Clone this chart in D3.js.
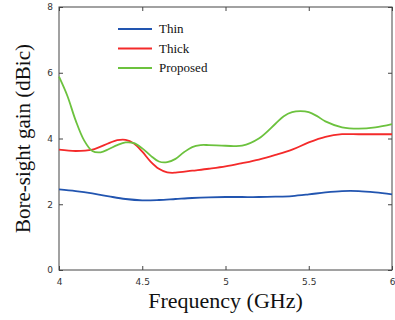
<!DOCTYPE html>
<html>
<head>
<meta charset="utf-8">
<script src="https://cdn.jsdelivr.net/npm/d3@7"></script>
<style>
  body { margin: 0; background: #fff; }
</style>
</head>
<body>
<div id="canvas"></div>
<script>
const w = 395,
    h = 320,
    margin = { top: 7, right: 3, bottom: 50, left: 59 },
    iw = w - margin.left - margin.right,
    ih = h - margin.top - margin.bottom;

// frequency points (GHz)
const thinFreq = [4, 4.1, 4.2, 4.3, 4.4, 4.5, 4.6, 4.7, 4.8, 4.9, 5, 5.1, 5.2, 5.3, 5.4, 5.5, 5.6, 5.7, 5.8, 5.9, 6];
const thinGain = [2.45, 2.4, 2.33, 2.24, 2.16, 2.12, 2.13, 2.16, 2.19, 2.21, 2.22, 2.22, 2.22, 2.23, 2.25, 2.3, 2.36, 2.4, 2.4, 2.36, 2.3];

const thickFreq = [4, 4.1, 4.2, 4.3, 4.35, 4.4, 4.45, 4.5, 4.55, 4.6, 4.65, 4.7, 4.8, 4.9, 5, 5.1, 5.2, 5.3, 5.4, 5.5, 5.6, 5.7, 5.8, 5.9, 6];
const thickGain = [3.66, 3.62, 3.66, 3.86, 3.95, 3.96, 3.85, 3.6, 3.3, 3.08, 2.97, 2.96, 3.02, 3.08, 3.15, 3.25, 3.36, 3.5, 3.66, 3.88, 4.05, 4.13, 4.13, 4.13, 4.13];

const propFreq = [4, 4.05, 4.1, 4.15, 4.2, 4.25, 4.3, 4.35, 4.4, 4.45, 4.5, 4.55, 4.6, 4.65, 4.7, 4.75, 4.8, 4.85, 4.9, 5, 5.1, 5.2, 5.3, 5.35, 5.4, 5.45, 5.5, 5.55, 5.6, 5.7, 5.8, 5.9, 6];
const propGain = [5.88, 5.3, 4.55, 3.95, 3.62, 3.58, 3.68, 3.8, 3.88, 3.86, 3.7, 3.48, 3.3, 3.28, 3.38, 3.58, 3.74, 3.8, 3.8, 3.78, 3.78, 4.0, 4.45, 4.68, 4.8, 4.83, 4.8, 4.68, 4.52, 4.34, 4.3, 4.34, 4.44];

const seriesNames = ['Thin', 'Thick', 'Proposed'];
const seriesColors = ['#2255b0', '#f42a2a', '#6cc23e'];
const xTicks = [4, 4.5, 5, 5.5, 6];
const yTicks = [0, 2, 4, 6, 8];

const series = [
    { name: seriesNames[0], color: seriesColors[0], f: thinFreq, g: thinGain },
    { name: seriesNames[1], color: seriesColors[1], f: thickFreq, g: thickGain },
    { name: seriesNames[2], color: seriesColors[2], f: propFreq, g: propGain }
];

const svg = d3.select('#canvas').append('svg')
    .attr('width', w)
    .attr('height', h);

const g = svg.append('g')
    .attr('transform', 'translate(' + margin.left + ',' + margin.top + ')');

const x = d3.scaleLinear().domain([4, 6]).range([0, iw]);
const y = d3.scaleLinear().domain([0, 8]).range([ih, 0]);

const axisColor = '#444';

function styleAxis(sel) {
    sel.select('.domain').remove();
    sel.selectAll('.tick line').attr('stroke', axisColor);
    sel.selectAll('.tick text')
        .attr('font-family', 'DejaVu Sans, sans-serif')
        .attr('font-size', '9px')
        .attr('fill', '#333');
}

// bottom + top axes (inward ticks)
g.append('g')
    .attr('transform', 'translate(0,' + ih + ')')
    .call(d3.axisBottom(x).tickValues(xTicks).tickSize(-4).tickPadding(9).tickFormat(d3.format('')))
    .call(styleAxis);
g.append('g')
    .call(d3.axisTop(x).tickValues(xTicks).tickSize(-4).tickFormat(''))
    .call(styleAxis);

// left + right axes
g.append('g')
    .call(d3.axisLeft(y).tickValues(yTicks).tickSize(-4).tickPadding(6))
    .call(styleAxis);
g.append('g')
    .attr('transform', 'translate(' + iw + ',0)')
    .call(d3.axisRight(y).tickValues(yTicks).tickSize(-4).tickFormat(''))
    .call(styleAxis);

// box
g.append('rect')
    .attr('width', iw)
    .attr('height', ih)
    .attr('fill', 'none')
    .attr('stroke', axisColor)
    .attr('stroke-width', 1);

const line = d3.line()
    .x(d => x(d[0]))
    .y(d => y(d[1]))
    .curve(d3.curveCatmullRom.alpha(0.5));

series.forEach(s => {
    g.append('path')
        .datum(d3.zip(s.f, s.g))
        .attr('d', line)
        .attr('fill', 'none')
        .attr('stroke', s.color)
        .attr('stroke-width', 1.8);
});

// legend
const legend = g.append('g').attr('transform', 'translate(59,22)');
series.forEach((s, i) => {
    const row = legend.append('g').attr('transform', 'translate(0,' + (i * 19.5) + ')');
    row.append('line')
        .attr('x1', 0).attr('x2', 34)
        .attr('stroke', s.color)
        .attr('stroke-width', 1.8);
    row.append('text')
        .attr('x', 41)
        .attr('y', 4)
        .attr('font-family', 'Liberation Serif, serif')
        .attr('font-size', '13px')
        .attr('fill', '#111')
        .text(s.name);
});

// axis titles
svg.append('text')
    .attr('x', margin.left + iw / 2)
    .attr('y', 308)
    .attr('text-anchor', 'middle')
    .attr('font-family', 'Liberation Serif, serif')
    .attr('font-size', '22px')
    .attr('fill', '#111')
    .text('Frequency (GHz)');

svg.append('text')
    .attr('transform', 'translate(30,' + (margin.top + ih / 2) + ')rotate(-90)')
    .attr('text-anchor', 'middle')
    .attr('font-family', 'Liberation Serif, serif')
    .attr('font-size', '21px')
    .attr('fill', '#111')
    .text('Bore-sight gain (dBic)');
</script>
</body>
</html>
